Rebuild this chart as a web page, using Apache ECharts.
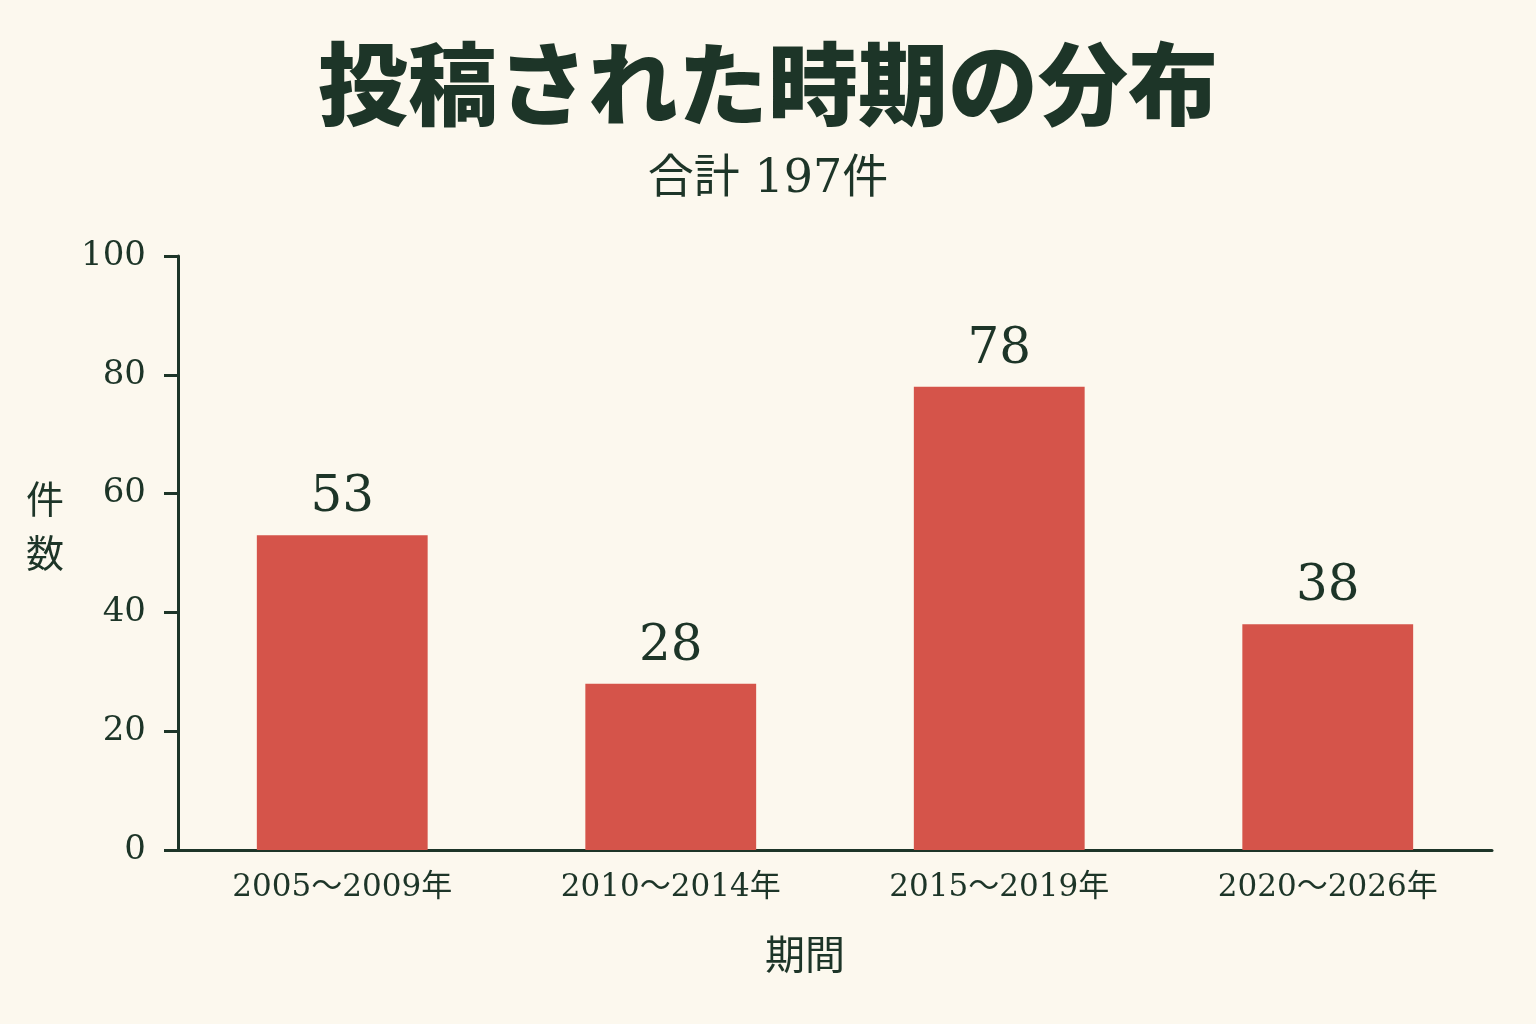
<!DOCTYPE html>
<html><head><meta charset="utf-8">
<script src="https://cdn.jsdelivr.net/npm/echarts@6/dist/echarts.min.js"></script>
<style>html,body{margin:0;padding:0;background:#FCF8EE}#c{width:1536px;height:1024px}</style>
</head><body><div id="c"></div>
<script>
const categories = ['2005～2009年', '2010～2014年', '2015～2019年', '2020～2026年'];
const counts = [53, 28, 78, 38];
const yTicks = [0, 20, 40, 60, 80, 100];
const titleText = '投稿された時期の分布';
const subtitleText = '合計 197件';

const ink = '#1D3528';
const serif = "'DejaVu Serif', 'Noto Sans CJK JP', serif";
const chart = echarts.init(document.getElementById('c'));
chart.setOption({
  backgroundColor: '#FCF8EE',
  title: [
    {text: titleText, left: 'center', top: 34, textStyle: {fontFamily: "'Noto Sans CJK JP'", fontWeight: 800, fontSize: 90, color: ink}},
    {text: subtitleText, left: 'center', top: 152, textStyle: {fontFamily: serif, fontWeight: 'normal', fontSize: 46, color: ink}}
  ],
  grid: {left: 178, right: 44, top: 256, bottom: 174},
  xAxis: {
    type: 'category', data: categories,
    name: '期間', nameLocation: 'middle', nameGap: 84,
    nameTextStyle: {fontFamily: "'Noto Sans CJK JP'", fontSize: 40, color: ink, padding: [0, 60, 0, 0]},
    axisLine: {lineStyle: {color: ink, width: 3}},
    axisTick: {show: false},
    axisLabel: {margin: 22, fontFamily: serif, fontSize: 31, color: ink}
  },
  yAxis: {
    type: 'value', min: 0, max: 100, interval: 20,
    name: '件\n数\n ', nameLocation: 'middle', nameRotate: 0, nameGap: 114,
    nameTextStyle: {fontFamily: "'Noto Sans CJK JP'", fontSize: 38, color: ink, lineHeight: 54, align: 'right'},
    axisLine: {show: true, lineStyle: {color: ink, width: 3}},
    axisTick: {show: true, length: 14, lineStyle: {color: ink, width: 3}},
    splitLine: {show: false},
    axisLabel: {margin: 32, fontFamily: serif, fontSize: 34, color: ink,
      formatter: v => yTicks.includes(v) ? String(v) : ''}
  },
  series: [{
    type: 'bar', data: counts, barWidth: '52%',
    itemStyle: {color: '#D5544A'},
    label: {show: true, position: 'top', distance: 12, fontFamily: serif, fontSize: 50, color: ink}
  }]
});
</script></body></html>
